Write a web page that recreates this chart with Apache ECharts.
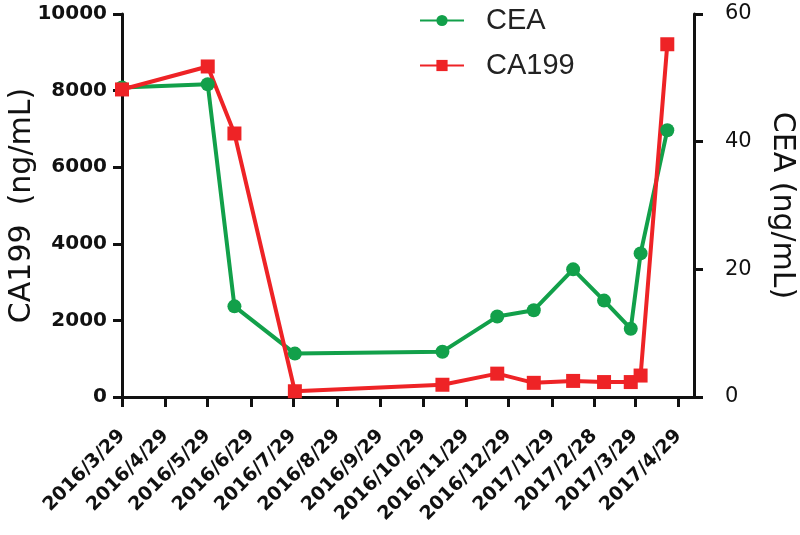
<!DOCTYPE html>
<html>
<head>
<meta charset="utf-8">
<script src="https://cdn.jsdelivr.net/npm/echarts@6/dist/echarts.min.js"></script>
<style>
  html, body { margin: 0; padding: 0; background: #fff; }
  #main { width: 800px; height: 535px; }
</style>
</head>
<body>
<div id="main"></div>
<script>
// tick labels on the date axis (one per month)
var tickLabels = ['2016/3/29', '2016/4/29', '2016/5/29', '2016/6/29', '2016/7/29', '2016/8/29',
  '2016/9/29', '2016/10/29', '2016/11/29', '2016/12/29', '2017/1/29', '2017/2/28',
  '2017/3/29', '2017/4/29'];

// sampling dates and values
var ceaDates = ['2016/3/29', '2016/5/29', '2016/6/17', '2016/7/30', '2016/11/12', '2016/12/21',
  '2017/1/16', '2017/2/13', '2017/3/7', '2017/3/26', '2017/4/2', '2017/4/21'];
var ceaValues = [48.5, 49.0, 14.2, 6.8, 7.1, 12.6, 13.6, 20.0, 15.1, 10.7, 22.5, 41.8];

var ca199Dates = ['2016/3/29', '2016/5/29', '2016/6/17', '2016/7/30', '2016/11/12', '2016/12/21',
  '2017/1/16', '2017/2/13', '2017/3/7', '2017/3/26', '2017/4/2', '2017/4/21'];
var ca199Values = [8030, 8630, 6880, 150, 320, 610, 370, 420, 390, 390, 560, 9210];

// dates -> day number since 2016/3/29
var DAY = 86400000;
var t0 = Date.UTC(2016, 2, 29);
function toDay(s) {
  var p = s.split('/');
  return Math.round((Date.UTC(+p[0], +p[1] - 1, +p[2]) - t0) / DAY);
}

var tickDays = tickLabels.map(toDay);

var chart = echarts.init(document.getElementById('main'));

var option = {
  backgroundColor: '#fff',
  textStyle: { fontFamily: 'DejaVu Sans, sans-serif' },
  legend: {
    orient: 'vertical',
    left: 419,
    top: 6,
    padding: 0,
    itemWidth: 44,
    itemHeight: 14,
    itemGap: 16,
    textStyle: { fontSize: 29, color: '#222', fontFamily: 'Liberation Sans, Arial, sans-serif', padding: [0, 0, 0, 17] },
    data: ['CEA', 'CA199']
  },
  grid: { left: 122, right: 106, top: 14, bottom: 138, outerBoundsMode: 'none' },
  xAxis: {
    type: 'value',
    min: 0,
    max: toDay('2017/5/10'),
    axisLine: { lineStyle: { color: '#111', width: 3 } },
    axisTick: { show: true, length: 10, lineStyle: { width: 3, color: '#111' }, customValues: tickDays },
    axisLabel: {
      customValues: tickDays,
      rotate: 45,
      fontSize: 19,
      fontWeight: 'bold',
      color: '#111',
      margin: 36,
      formatter: function (v) {
        var i = tickDays.indexOf(v);
        return i >= 0 ? tickLabels[i] : '';
      }
    },
    splitLine: { show: false }
  },
  yAxis: [{
    type: 'value',
    min: 0,
    max: 10000,
    interval: 2000,
    name: 'CA199  (ng/mL)',
    nameLocation: 'middle',
    nameGap: 85,
    nameMoveOverlap: false,
    nameTextStyle: { fontSize: 30, color: '#111' },
    axisLine: { show: true, lineStyle: { color: '#111', width: 3 } },
    axisTick: { show: true, length: 9, lineStyle: { width: 3 } },
    axisLabel: {
      fontSize: 20, fontWeight: 'bold', color: '#111', margin: 15,
      formatter: function (v) { return String(v); }
    },
    splitLine: { show: false }
  }, {
    type: 'value',
    min: 0,
    max: 60,
    interval: 20,
    position: 'right',
    name: 'CEA (ng/mL)',
    nameLocation: 'middle',
    nameRotate: -90,
    nameGap: 73,
    nameMoveOverlap: false,
    nameTextStyle: { fontSize: 30, color: '#111' },
    axisLine: { show: true, lineStyle: { color: '#111', width: 3 } },
    axisTick: { show: true, length: 9, lineStyle: { width: 3 } },
    axisLabel: { fontSize: 21, color: '#111', margin: 31 },
    splitLine: { show: false }
  }],
  series: [{
    name: 'CEA',
    type: 'line',
    yAxisIndex: 1,
    color: '#12a04a',
    symbol: 'circle',
    symbolSize: 14,
    lineStyle: { width: 4 },
    data: ceaDates.map(function (d, i) { return [toDay(d), ceaValues[i]]; })
  }, {
    name: 'CA199',
    type: 'line',
    yAxisIndex: 0,
    color: '#ee2326',
    symbol: 'rect',
    symbolSize: 14,
    lineStyle: { width: 4 },
    data: ca199Dates.map(function (d, i) { return [toDay(d), ca199Values[i]]; })
  }]
};

chart.setOption(option);
</script>
</body>
</html>
